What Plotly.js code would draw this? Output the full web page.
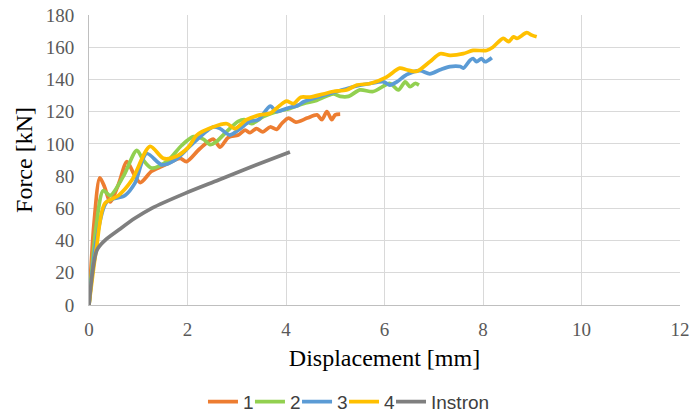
<!DOCTYPE html>
<html>
<head>
<meta charset="utf-8">
<script src="https://cdn.plot.ly/plotly-3.0.1.min.js"></script>
<style>html,body{margin:0;padding:0;background:#fff;}#chart{width:689px;height:416px;}</style>
</head>
<body>
<div id="chart"></div>
<script>
// Series 1 (orange)
const x1 = [0, 0.1, 0.22, 0.32, 0.43, 0.6, 0.77, 0.9, 1.04, 1.27, 1.48, 1.61, 1.85, 1.98, 2.25, 2.52, 2.66, 2.83, 3.03, 3.17, 3.27, 3.4, 3.53, 3.68, 3.81, 3.91, 4.05, 4.2, 4.43, 4.63, 4.73, 4.83, 4.93, 5.0, 5.1];
const y1 = [0, 50, 79, 73, 64, 75, 89, 82, 76, 83, 86, 88, 91, 89, 97, 103, 98, 104, 105.5, 108.5, 107, 109.5, 107.5, 110.5, 109, 112.5, 116, 113.5, 116, 118, 115, 120, 115, 118, 118.5];
// Series 2 (green)
const x2 = [0, 0.15, 0.29, 0.43, 0.7, 0.97, 1.1, 1.27, 1.58, 1.88, 2.12, 2.32, 2.46, 2.59, 2.79, 3.03, 3.17, 3.3, 3.54, 3.81, 4.08, 4.35, 4.62, 4.96, 5.1, 5.27, 5.5, 5.77, 6.11, 6.28, 6.42, 6.52, 6.62, 6.7];
const y2 = [0, 50, 71, 68, 80, 96, 90, 85, 89, 99, 104.5, 103, 99.5, 101.5, 107.5, 114, 115, 112.5, 117, 120, 122, 125, 127, 131, 129.5, 129.5, 133.5, 132.5, 137.5, 133.5, 138.5, 135.5, 137.5, 136.5];
// Series 3 (blue)
const x3 = [0, 0.15, 0.36, 0.73, 0.93, 1.17, 1.48, 1.75, 2.1, 2.52, 2.66, 2.86, 3.05, 3.27, 3.44, 3.68, 3.81, 4.01, 4.25, 4.35, 4.69, 5.03, 5.37, 5.71, 5.98, 6.11, 6.25, 6.45, 6.72, 6.92, 7.13, 7.33, 7.54, 7.6, 7.74, 7.8, 7.87, 7.97, 8.04, 8.18];
const y3 = [0, 40, 64, 68, 75.5, 94, 87, 90, 100, 110.5, 109.5, 105.5, 109, 114, 115, 123.5, 120, 122, 124, 126, 129.5, 132.5, 135.5, 137.5, 138.5, 136.5, 138.5, 143, 145.5, 143.5, 146, 148, 148, 147, 152, 153, 151, 153, 151, 153.5];
// Series 4 (yellow)
const x4 = [0, 0.15, 0.32, 0.6, 0.87, 1.24, 1.51, 1.75, 2.02, 2.19, 2.52, 2.8, 2.96, 3.2, 3.47, 3.68, 3.88, 4.01, 4.15, 4.3, 4.49, 4.76, 4.96, 5.23, 5.44, 5.71, 6.04, 6.31, 6.45, 6.65, 6.92, 7.13, 7.33, 7.6, 7.8, 8.07, 8.2, 8.41, 8.52, 8.62, 8.69, 8.89, 8.99, 9.09];
const y4 = [0, 35, 63, 68, 77.5, 98.5, 91, 92, 98, 105.5, 110.5, 112.5, 109.5, 115, 118, 119, 124, 126.5, 125, 129, 129, 131, 132.5, 133.5, 136.5, 137.5, 141.5, 147, 146, 145, 151, 156, 155, 156, 158, 158, 160, 165.5, 163.5, 166.5, 165.5, 169, 167.5, 166.5];
// Instron (gray)
const x5 = [0, 0.16, 0.32, 0.6, 0.93, 1.27, 1.95, 2.63, 3.3, 4.08];
const y5 = [0, 34, 40, 46.5, 53.8, 60, 69.3, 77.6, 85.8, 95];

const names = ['1', '2', '3', '4', 'Instron'];
const colors = ['#ED7D31', '#92D050', '#5B9BD5', '#FFC000', '#7F7F7F'];
const xs = [x1, x2, x3, x4, x5];
const ys = [y1, y2, y3, y4, y5];

const xTicks = [0, 2, 4, 6, 8, 10, 12];
const yTicks = [0, 20, 40, 60, 80, 100, 120, 140, 160, 180];

const legendIds = ['legend', 'legend2', 'legend3', 'legend4', 'legend5'];
const legendX = [0.2946, 0.3628, 0.4311, 0.4993, 0.5675];

const traces = xs.map((x, i) => ({
  x: x, y: ys[i], name: names[i], type: 'scatter', mode: 'lines',
  line: {color: colors[i], width: 3.7, shape: 'spline', smoothing: 0.8},
  legend: legendIds[i],
  hoverinfo: 'none'
}));

const serif = 'Liberation Serif, Times New Roman, serif';
const legFont = {family: 'Liberation Sans, Arial, sans-serif', size: 19, color: '#404040'};
const layout = {
  width: 689, height: 416,
  margin: {l: 89, r: 9, t: 15, b: 111},
  paper_bgcolor: '#fff', plot_bgcolor: '#fff',
  showlegend: true,
  xaxis: {range: [0, 12], tickvals: xTicks, ticktext: xTicks.map(String),
    automargin: false, ticklabeloverflow: 'allow',
    showgrid: true, gridcolor: '#D9D9D9', gridwidth: 1,
    showline: true, linecolor: '#BFBFBF', linewidth: 1, zeroline: false, ticks: '',
    ticklabelstandoff: 7,
    tickfont: {family: serif, size: 19, color: '#595959'},
    title: {text: 'Displacement [mm]', standoff: 10,
      font: {family: serif, size: 24, color: '#000'}},
    fixedrange: true},
  yaxis: {range: [0, 180], tickvals: yTicks, ticktext: yTicks.map(String),
    automargin: false, ticklabeloverflow: 'allow',
    showgrid: true, gridcolor: '#D9D9D9', gridwidth: 1,
    showline: true, linecolor: '#BFBFBF', linewidth: 1, zeroline: false, ticks: '',
    ticklabelstandoff: 10,
    tickfont: {family: serif, size: 19, color: '#595959'},
    title: {text: 'Force [kN]', standoff: 6,
      font: {family: serif, size: 24, color: '#000'}},
    fixedrange: true}
};
legendIds.forEach((id, i) => {
  layout[id] = {orientation: 'h', x: legendX[i], xanchor: 'left', xref: 'container',
    y: 0.034, yanchor: 'middle', yref: 'container',
    font: legFont, itemwidth: 30, tracegroupgap: 0, bgcolor: 'rgba(0,0,0,0)'};
});

Plotly.newPlot('chart', traces, layout, {staticPlot: true, displayModeBar: false});
</script>
</body>
</html>
